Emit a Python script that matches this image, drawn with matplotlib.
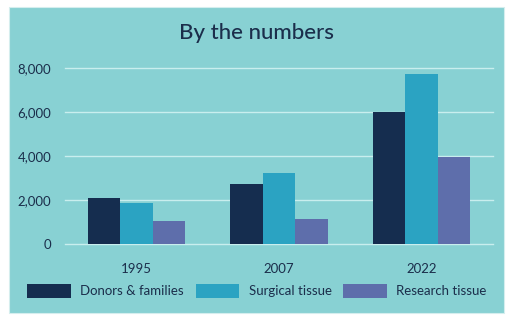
import matplotlib
matplotlib.use("Agg")
import matplotlib.pyplot as plt
from matplotlib.patches import Rectangle
import numpy as np

# Counts per year for each category
years = ["1995", "2007", "2022"]
donors = [2100, 2750, 6000]
surgical = [1850, 3250, 7750]
research = [1050, 1150, 3950]
series_names = ["Donors & families", "Surgical tissue", "Research tissue"]
y_ticks = [0, 2000, 4000, 6000, 8000]

colors = ["#152d4f", "#2ba3c2", "#5e6eab"]
panel_bg = "#88d1d3"
text_col = "#1b2e4b"
grid_col = "#c9eeee"

plt.rcParams["font.family"] = ["Lato", "DejaVu Sans"]

fig = plt.figure(figsize=(5.13, 3.24), dpi=100)
fig.patch.set_facecolor("white")

# teal card behind the chart
fig.patches.append(Rectangle((9 / 513, 1 - 313 / 324), 495 / 513, 306 / 324,
                             transform=fig.transFigure, facecolor=panel_bg,
                             edgecolor="#d5eeee", linewidth=0.8, zorder=-1))

ax = fig.add_axes([65 / 513, 1 - 244 / 324, 428 / 513, 176 / 324])
ax.set_facecolor("none")
ax.set_zorder(1)

x = np.arange(len(years))
w = 0.228
for i, (vals, name) in enumerate(zip([donors, surgical, research], series_names)):
    ax.bar(x + (i - 1) * w, vals, width=w, color=colors[i], label=name, zorder=3)

for t in y_ticks:
    ax.axhline(t, color=grid_col, linewidth=1.0, zorder=1, clip_on=False)

ax.set_xlim(-0.5, 2.5)
ax.set_ylim(0, 8000)
ax.set_yticks(y_ticks)
ax.set_yticklabels([f"{t:,}" for t in y_ticks])
ax.set_xticks(x)
ax.set_xticklabels(years)
ax.tick_params(axis="y", length=0, pad=10, labelsize=9.5, labelcolor=text_col)
ax.tick_params(axis="x", length=0, pad=14, labelsize=9.5, labelcolor=text_col)
for s in ax.spines.values():
    s.set_visible(False)

fig.text(0.5, 1 - 33 / 324, "By the numbers", ha="center", va="center",
         fontsize=16, color=text_col, fontweight="medium")

leg = fig.legend(loc="center", bbox_to_anchor=(257 / 513, 1 - 291 / 324), ncol=3,
                 frameon=False, fontsize=9.5, handlelength=3.3, handleheight=1.3,
                 handletextpad=0.7, columnspacing=0.9, borderpad=0)
for t in leg.get_texts():
    t.set_color(text_col)

fig.savefig("out.png", dpi=100, facecolor="white")
